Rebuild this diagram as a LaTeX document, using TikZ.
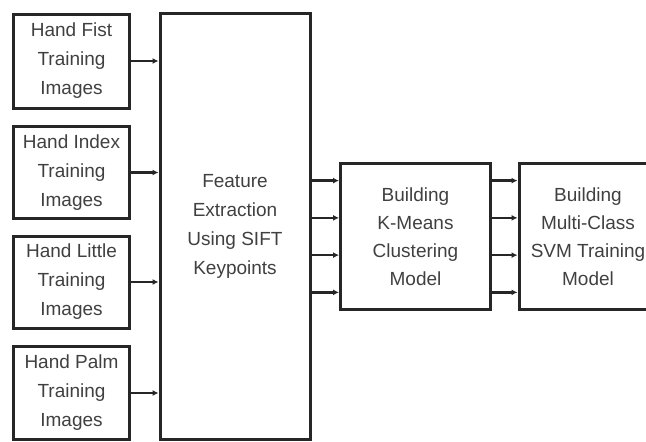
\documentclass[tikz,border=0pt]{standalone}
\usepackage{fontspec}
\setmainfont{Liberation Sans}
\usetikzlibrary{arrows.meta,calc}
\begin{document}
\begin{tikzpicture}[x=1pt,y=-1pt,
  box/.style={draw=black!85,line width=3pt,inner sep=0pt,align=center,
    text=black!75,font=\fontsize{19}{29}\selectfont},
  arr/.style={draw=black!85,line width=2.6pt,-{Latex[length=6pt,width=6pt]}}]
\useasboundingbox (0,0) rectangle (646,442);
\node[box,minimum width=116pt,minimum height=94pt] (b1) at (71.5,61) {Hand Fist\\Training\\Images};
\node[box,minimum width=116pt,minimum height=92pt] (b2) at (71.5,172.5) {Hand Index\\Training\\Images};
\node[box,minimum width=116pt,minimum height=92pt] (b3) at (71.5,282) {Hand Little\\Training\\Images};
\node[box,minimum width=116pt,minimum height=93pt] (b4) at (71.5,393) {Hand Palm\\Training\\Images};
\node[box,minimum width=150pt,minimum height=426pt] (fe) at (235,226.5) {Feature\\Extraction\\Using SIFT\\Keypoints};
\node[box,minimum width=150pt,minimum height=146pt,font=\fontsize{19}{28}\selectfont] (km) at (415.5,236.5) {Building\\K-Means\\Clustering\\Model};
\node[box,minimum width=138pt,minimum height=146pt,font=\fontsize{19}{28}\selectfont] (svm) at (588,236.5) {Building\\Multi-Class\\SVM Training\\Model};
\foreach \b in {b1,b2,b3,b4}{
  \draw[arr] (\b.east) -- (\b.east -| fe.west);
}
\foreach \f [count=\i] in {0.125,0.375,0.625,0.875}{
  \coordinate (p\i) at ($(km.north west)!\f!(km.south west)$);
  \coordinate (q\i) at ($(svm.north west)!\f!(svm.south west)$);
  \draw[arr] (fe.east |- p\i) -- (p\i);
  \draw[arr] (km.east |- q\i) -- (q\i);
}
\end{tikzpicture}
\end{document}
